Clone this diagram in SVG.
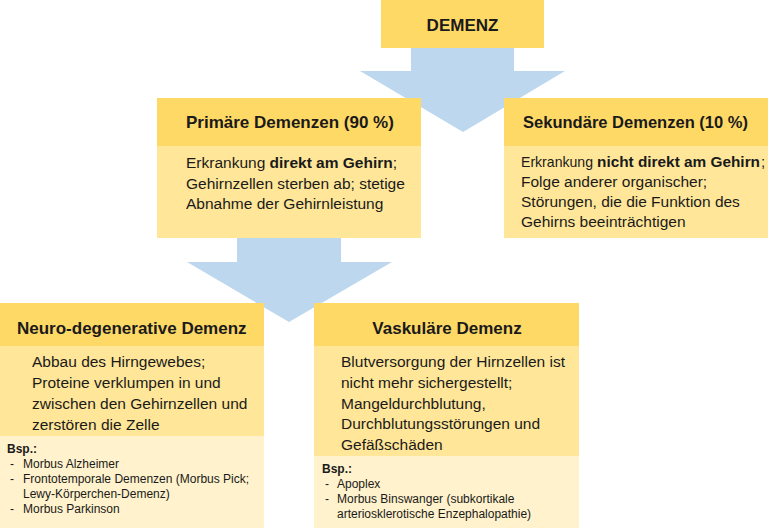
<svg xmlns="http://www.w3.org/2000/svg" width="768" height="528" viewBox="0 0 768 528">
<style>
.hd{fill:#FFD966}
.bd{fill:#FFE699}
.bs{fill:#FFF2CC}
.ar{fill:#BDD7EE}
text{font-family:"Liberation Sans",Arial,sans-serif;fill:#1a1a1a}
.t{font-size:17px;font-weight:bold}
.b{font-size:15.5px}
.bb{font-size:15px}
.s{font-size:12px}
.sb{font-size:12px;font-weight:bold}
</style>
<rect width="768" height="528" fill="#ffffff"/>
<g id="connectors">
<polygon class="ar" points="411,40 514,40 514,71 565,71 463,132 360,71 411,71"/>
<polygon class="ar" points="237,230 341,230 341,262 392,262 289,322 187,262 237,262"/>
</g>
<g id="demenz">
<rect class="hd" x="381" y="0" width="163" height="48"/>
<text class="t" x="462.5" y="31" text-anchor="middle">DEMENZ</text>
</g>
<g id="primaer">
<rect class="hd" x="157" y="98" width="264" height="48"/>
<rect class="bd" x="157" y="146" width="264" height="92"/>
<text class="t" x="186" y="128">Primäre Demenzen (90 %)</text>
<text class="b" x="186" y="168">Erkrankung <tspan font-weight="bold">direkt am Gehirn</tspan>;</text>
<text class="b" x="186" y="189">Gehirnzellen sterben ab; stetige</text>
<text class="b" x="186" y="209">Abnahme der Gehirnleistung</text>
</g>
<g id="sekundaer">
<rect class="hd" x="504" y="98" width="264" height="48"/>
<rect class="bd" x="504" y="146" width="264" height="92"/>
<text class="t" x="523" y="128" textLength="225" lengthAdjust="spacingAndGlyphs">Sekundäre Demenzen (10 %)</text>
<text class="bb" x="521" y="167" textLength="72" lengthAdjust="spacingAndGlyphs">Erkrankung</text>
<text class="bb" x="597" y="167" font-weight="bold" textLength="163" lengthAdjust="spacingAndGlyphs">nicht direkt am Gehirn</text>
<text class="bb" x="761" y="167">;</text>
<text class="b" x="521" y="187">Folge anderer organischer;</text>
<text class="b" x="521" y="207">Störungen, die die Funktion des</text>
<text class="b" x="521" y="227">Gehirns beeinträchtigen</text>
</g>
<g id="neuro">
<rect class="hd" x="0" y="303" width="264" height="43"/>
<rect class="bd" x="0" y="346" width="264" height="90"/>
<rect class="bs" x="0" y="436" width="264" height="92"/>
<text class="t" x="17" y="334">Neuro-degenerative Demenz</text>
<text class="b" x="32" y="367">Abbau des Hirngewebes;</text>
<text class="b" x="32" y="388">Proteine verklumpen in und</text>
<text class="b" x="32" y="409">zwischen den Gehirnzellen und</text>
<text class="b" x="32" y="430">zerstören die Zelle</text>
<text class="sb" x="7" y="453">Bsp.:</text>
<text class="s" x="10" y="468">-</text><text class="s" x="23" y="468">Morbus Alzheimer</text>
<text class="s" x="10" y="483">-</text><text class="s" x="23" y="483">Frontotemporale Demenzen (Morbus Pick;</text>
<text class="s" x="23" y="498">Lewy-Körperchen-Demenz)</text>
<text class="s" x="10" y="513">-</text><text class="s" x="23" y="513">Morbus Parkinson</text>
</g>
<g id="vaskulaer">
<rect class="hd" x="314" y="303" width="265" height="43"/>
<rect class="bd" x="314" y="346" width="265" height="110"/>
<rect class="bs" x="314" y="456" width="265" height="72"/>
<text class="t" x="447" y="334" text-anchor="middle">Vaskuläre Demenz</text>
<text class="b" x="341" y="367">Blutversorgung der Hirnzellen ist</text>
<text class="b" x="341" y="388">nicht mehr sichergestellt;</text>
<text class="b" x="341" y="409">Mangeldurchblutung,</text>
<text class="b" x="341" y="429">Durchblutungsstörungen und</text>
<text class="b" x="341" y="450">Gefäßschäden</text>
<text class="sb" x="322" y="473">Bsp.:</text>
<text class="s" x="325" y="488">-</text><text class="s" x="337" y="488">Apoplex</text>
<text class="s" x="325" y="503">-</text><text class="s" x="337" y="503">Morbus Binswanger (subkortikale</text>
<text class="s" x="337" y="518">arteriosklerotische Enzephalopathie)</text>
</g>
</svg>
